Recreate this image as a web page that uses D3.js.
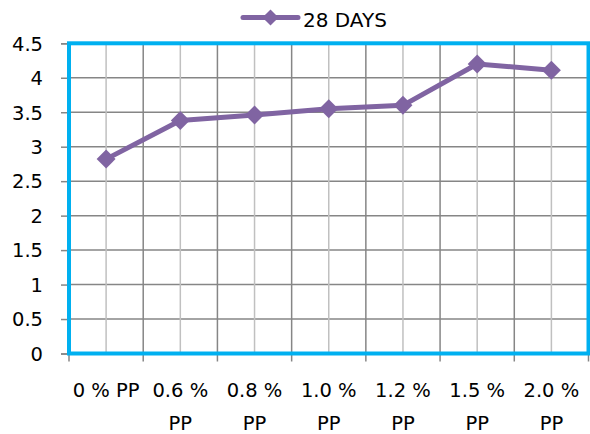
<!DOCTYPE html>
<html>
<head>
<meta charset="utf-8">
<script src="https://cdn.jsdelivr.net/npm/d3@7"></script>
<style>
  body { margin: 0; background: #fff; }
  svg text { font-family: "DejaVu Sans", sans-serif; fill: #000; }
</style>
</head>
<body>
<svg id="chart" width="590" height="434"></svg>
<script>
const categories = ["0 % PP", "0.6 % PP", "0.8 % PP", "1.0 % PP", "1.2 % PP", "1.5 % PP", "2.0 % PP"];
const values = [2.82, 3.38, 3.46, 3.55, 3.60, 4.20, 4.11];
const yTicks = [0, 0.5, 1, 1.5, 2, 2.5, 3, 3.5, 4, 4.5];
const seriesName = "28 DAYS";

const svg = d3.select("#chart");
const plotLeft = 69, plotRight = 588.5, plotTop = 43.3, plotBottom = 353.5;
const purple = "#8064A2";

const x = d3.scaleBand().domain(categories).range([plotLeft, plotRight]).padding(0);
const y = d3.scaleLinear().domain([0, 4.5]).range([plotBottom, plotTop]);

// grid
const grid = svg.append("g");
grid.selectAll(".hgrid")
  .data(yTicks.filter(d => d > 0 && d < 4.5))
  .join("line")
  .attr("x1", plotLeft).attr("x2", plotRight)
  .attr("y1", d => y(d)).attr("y2", d => y(d))
  .attr("stroke", "#868686").attr("stroke-width", 1.5);

// light lines at category centres
grid.selectAll(".vmid")
  .data(categories)
  .join("line")
  .attr("x1", d => x(d) + x.bandwidth() / 2).attr("x2", d => x(d) + x.bandwidth() / 2)
  .attr("y1", plotTop).attr("y2", plotBottom)
  .attr("stroke", "#C0C0C0").attr("stroke-width", 1.5);

// dark lines at category edges
grid.selectAll(".vedge")
  .data(categories.slice(1))
  .join("line")
  .attr("x1", d => x(d)).attr("x2", d => x(d))
  .attr("y1", plotTop).attr("y2", plotBottom)
  .attr("stroke", "#868686").attr("stroke-width", 1.5);

// y axis
const yAxis = svg.append("g")
  .attr("transform", `translate(${plotLeft},0)`)
  .call(d3.axisLeft(y).tickValues(yTicks).tickSize(8).tickPadding(18).tickFormat(d3.format("")));
yAxis.select(".domain").attr("stroke", "#868686").attr("stroke-width", 1.5);
yAxis.selectAll(".tick line").attr("stroke", "#868686").attr("stroke-width", 1.5);
yAxis.selectAll("text").style("font-size", "19.5px").attr("dy", "0.35em");

// x axis ticks at band edges
const edges = categories.map(d => x(d)).concat([plotRight]);
svg.append("g").selectAll("line")
  .data(edges)
  .join("line")
  .attr("x1", d => d).attr("x2", d => d)
  .attr("y1", plotBottom).attr("y2", plotBottom + 8)
  .attr("stroke", "#868686").attr("stroke-width", 1.5);

// x labels, wrapped when wider than the band
const xl = svg.append("g").selectAll("text")
  .data(categories)
  .join("text")
  .attr("x", d => x(d) + x.bandwidth() / 2)
  .attr("y", 397)
  .attr("text-anchor", "middle")
  .style("font-size", "19.5px")
  .text(d => d);
xl.each(function(d) {
  const t = d3.select(this);
  if (this.getComputedTextLength() > x.bandwidth() - 2) {
    const i = d.lastIndexOf(" ");
    const cx = +t.attr("x");
    t.text(null);
    t.append("tspan").attr("x", cx).text(d.slice(0, i));
    t.append("tspan").attr("x", cx).attr("dy", 33).text(d.slice(i + 1));
  }
});

// plot border
svg.append("rect")
  .attr("x", plotLeft).attr("y", plotTop)
  .attr("width", plotRight - plotLeft).attr("height", plotBottom - plotTop)
  .attr("fill", "none")
  .attr("stroke", "#00B0F0").attr("stroke-width", 4);

// series
const line = d3.line()
  .x((d, i) => x(categories[i]) + x.bandwidth() / 2)
  .y(d => y(d));
svg.append("path")
  .datum(values)
  .attr("d", line)
  .attr("fill", "none")
  .attr("stroke", purple).attr("stroke-width", 5)
  .attr("stroke-linejoin", "round").attr("stroke-linecap", "round");

svg.append("g").selectAll("path")
  .data(values)
  .join("path")
  .attr("transform", (d, i) => `translate(${x(categories[i]) + x.bandwidth() / 2},${y(d)}) rotate(45)`)
  .attr("d", d3.symbol().type(d3.symbolSquare).size(180))
  .attr("fill", purple);

// legend
const lg = svg.append("g");
lg.append("line")
  .attr("x1", 243).attr("x2", 298).attr("y1", 17.5).attr("y2", 17.5)
  .attr("stroke", purple).attr("stroke-width", 5).attr("stroke-linecap", "round");
lg.append("path")
  .attr("transform", "translate(270.5,17.5) rotate(45)")
  .attr("d", d3.symbol().type(d3.symbolSquare).size(130))
  .attr("fill", purple);
lg.append("text")
  .attr("x", 303).attr("y", 27)
  .style("font-size", "20px")
  .text(seriesName);
</script>
</body>
</html>
